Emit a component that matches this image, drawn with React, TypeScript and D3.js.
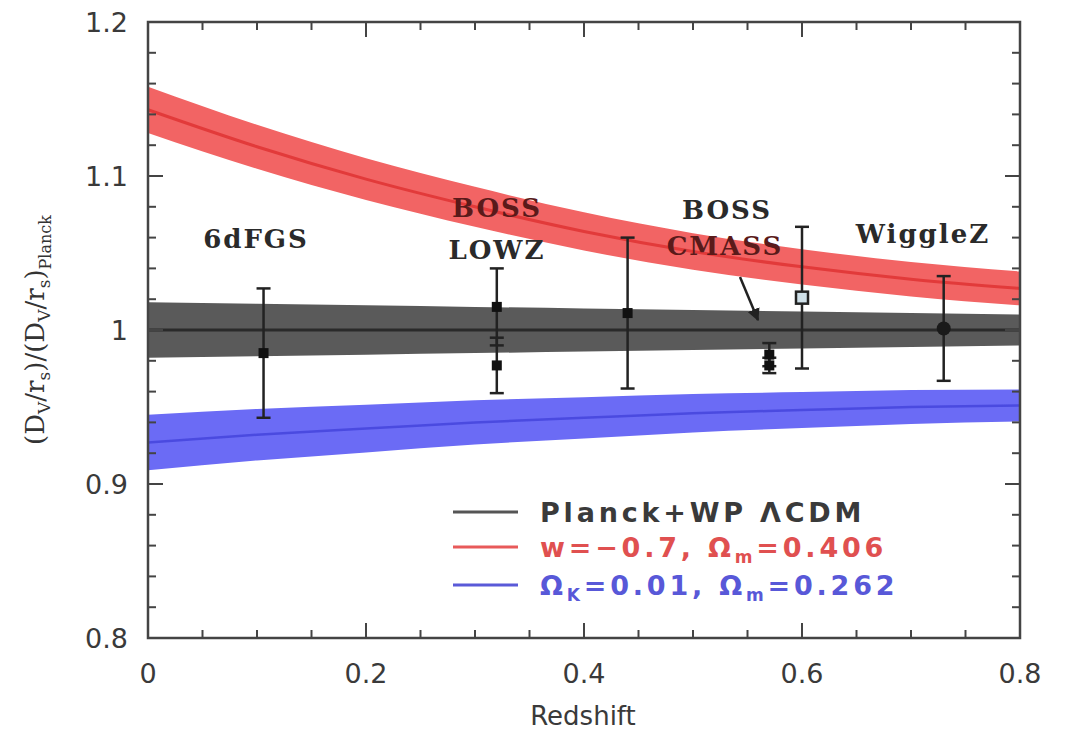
import React from "react";
import * as d3 from "d3";

// model bands, sampled along redshift
const zGrid = [0, 0.1, 0.2, 0.3, 0.4, 0.5, 0.6, 0.7, 0.8];
const planckMid = [1, 1, 1, 1, 1, 1, 1, 1, 1];
const planckHalf = [0.018, 0.017, 0.016, 0.015, 0.014, 0.013, 0.012, 0.011, 0.01];
const wMid = [1.143, 1.119, 1.098, 1.08, 1.064, 1.051, 1.041, 1.033, 1.027];
const wHalf = [0.015, 0.0143, 0.0136, 0.013, 0.0124, 0.0119, 0.0115, 0.0112, 0.011];
const okMid = [0.927, 0.932, 0.936, 0.94, 0.943, 0.946, 0.948, 0.95, 0.951];
const okHalf = [0.018, 0.0167, 0.0155, 0.0144, 0.0134, 0.0125, 0.0117, 0.011, 0.0104];

// BAO measurements
const pointZ = [0.106, 0.32, 0.32, 0.44, 0.57, 0.57, 0.6, 0.73];
const pointVal = [0.985, 1.015, 0.977, 1.011, 0.984, 0.977, 1.021, 1.001];
const pointErr = [0.042, 0.025, 0.018, 0.049, 0.0075, 0.005, 0.046, 0.034];
const pointShape = ["square", "square", "square", "square", "square", "square", "open", "circle"];

const legendLabels = ["Planck+WP \u039BCDM", "w=\u22120.7, \u03A9", "\u03A9"];

const W = 1068;
const H = 733;

const x = d3.scaleLinear().domain([0, 0.8]).range([148, 1020]);
const y = d3.scaleLinear().domain([0.8, 1.2]).range([638, 22]);

function band(mid: number[], half: number[]) {
  const area = d3
    .area<number>()
    .x((d) => x(zGrid[d]))
    .y0((d) => y(mid[d] - half[d]))
    .y1((d) => y(mid[d] + half[d]))
    .curve(d3.curveMonotoneX);
  const line = d3
    .line<number>()
    .x((d) => x(zGrid[d]))
    .y((d) => y(mid[d]))
    .curve(d3.curveMonotoneX);
  const idx = d3.range(zGrid.length);
  return { area: area(idx) as string, line: line(idx) as string };
}

export default function App() {
  const planck = band(planckMid, planckHalf);
  const wBand = band(wMid, wHalf);
  const okBand = band(okMid, okHalf);

  const xMajor = x.ticks(4);
  const xMinor = x.ticks(16);
  const yMajor = y.ticks(4);
  const yMinor = y.ticks(20);
  const fmt = (d: number) => String(+d.toFixed(1));

  const [x0, x1] = x.range();
  const [y0, y1] = y.range();
  const annFont = "'DejaVu Serif', serif";
  const sansFont = "'DejaVu Sans', sans-serif";

  return (
    <svg width={W} height={H} style={{ position: "absolute", left: 0, top: 0, background: "#fff" }}>
      <defs>
        <marker id="ah" viewBox="0 0 10 10" refX="9" refY="5" markerWidth="5" markerHeight="5" orient="auto">
          <path d="M0,0 L10,5 L0,10 z" fill="#222" />
        </marker>
      </defs>

      {/* model bands */}
      <path d={planck.area} fill="#5a5a5a" />
      <path d={planck.line} fill="none" stroke="#2a2a2a" strokeWidth={3} />
      <path d={okBand.area} fill="#6b6bf5" />
      <path d={okBand.line} fill="none" stroke="#4a4ae0" strokeWidth={2.5} />
      <path d={wBand.area} fill="#f26464" />
      <path d={wBand.line} fill="none" stroke="#e23a3a" strokeWidth={3} />

      {/* error bars */}
      <g stroke="#222" strokeWidth={2.5}>
        {pointZ.map((z, i) => {
          const cx = x(z);
          const top = y(pointVal[i] + pointErr[i]);
          const bot = y(pointVal[i] - pointErr[i]);
          return (
            <g key={i}>
              <line x1={cx} x2={cx} y1={top} y2={bot} />
              <line x1={cx - 7} x2={cx + 7} y1={top} y2={top} />
              <line x1={cx - 7} x2={cx + 7} y1={bot} y2={bot} />
            </g>
          );
        })}
      </g>
      <g>
        {pointZ.map((z, i) => {
          const cx = x(z);
          const cy = y(pointVal[i]);
          if (pointShape[i] === "circle") return <circle key={i} cx={cx} cy={cy} r={7} fill="#1a1a1a" />;
          if (pointShape[i] === "open")
            return <rect key={i} x={cx - 6} y={cy - 6} width={12} height={12} fill="#cfe0e8" stroke="#222" strokeWidth={2.5} />;
          return <rect key={i} x={cx - 5} y={cy - 5} width={10} height={10} fill="#111" />;
        })}
      </g>

      {/* survey labels */}
      <g fontFamily={annFont} fontWeight="bold" fontSize={26} fill="#2a2a2a" textAnchor="middle" letterSpacing={2}>
        <text x={256} y={248}>6dFGS</text>
        <text x={497} y={217} fill="#5a1a1a">BOSS</text>
        <text x={497} y={259}>LOWZ</text>
        <text x={727} y={219}>BOSS</text>
        <text x={725} y={255} fill="#5a1a1a">CMASS</text>
        <text x={923} y={243}>WiggleZ</text>
      </g>
      <line x1={740} y1={277} x2={758} y2={320} stroke="#222" strokeWidth={2.5} markerEnd="url(#ah)" />

      {/* frame and ticks */}
      <rect x={x0} y={y1} width={x1 - x0} height={y0 - y1} fill="none" stroke="#444" strokeWidth={2.5} />
      <g stroke="#444" strokeWidth={2}>
        {xMinor.map((t, i) => {
          const len = xMajor.some((m) => Math.abs(m - t) < 1e-9) ? 15 : 8;
          return (
            <g key={"xm" + i}>
              <line x1={x(t)} x2={x(t)} y1={y0} y2={y0 - len} />
              <line x1={x(t)} x2={x(t)} y1={y1} y2={y1 + len} />
            </g>
          );
        })}
        {yMinor.map((t, i) => {
          const len = yMajor.some((m) => Math.abs(m - t) < 1e-9) ? 15 : 8;
          return (
            <g key={"ym" + i}>
              <line x1={x0} x2={x0 + len} y1={y(t)} y2={y(t)} />
              <line x1={x1} x2={x1 - len} y1={y(t)} y2={y(t)} />
            </g>
          );
        })}
      </g>
      <g fontFamily={sansFont} fontSize={27} fill="#3a3a3a">
        {xMajor.map((t, i) => (
          <text key={i} x={x(t)} y={683} textAnchor="middle">{fmt(t)}</text>
        ))}
        {yMajor.map((t, i) => (
          <text key={i} x={128} y={y(t) + 10} textAnchor="end">{fmt(t)}</text>
        ))}
      </g>
      <text x={583} y={725} textAnchor="middle" fontFamily={sansFont} fontSize={26} fill="#3a3a3a">Redshift</text>
      <text transform="translate(44,330) rotate(-90)" textAnchor="middle" fontFamily={annFont} fontSize={26} fill="#333">
        (D<tspan fontSize={17} dy={6}>V</tspan>
        <tspan dy={-6}>/r</tspan><tspan fontSize={17} dy={6}>s</tspan>
        <tspan dy={-6}>)/(D</tspan><tspan fontSize={17} dy={6}>V</tspan>
        <tspan dy={-6}>/r</tspan><tspan fontSize={17} dy={6}>s</tspan>
        <tspan dy={-6}>)</tspan><tspan fontSize={16} dy={7}>Planck</tspan>
      </text>

      {/* legend */}
      <g strokeWidth={3}>
        <line x1={453} x2={518} y1={512} y2={512} stroke="#555" />
        <line x1={453} x2={518} y1={547} y2={547} stroke="#e85a5a" />
        <line x1={453} x2={518} y1={585} y2={585} stroke="#5a5ad8" />
      </g>
      <g fontFamily={sansFont} fontWeight="bold" fontSize={27} letterSpacing={3.8}>
        <text x={540} y={522} fill="#3a3a3a">{legendLabels[0]}</text>
        <text x={540} y={557} fill="#e05050">
          {legendLabels[1]}<tspan fontSize={17} dy={6}>m</tspan><tspan dy={-6}>=0.406</tspan>
        </text>
        <text x={540} y={595} fill="#5858d8">
          {legendLabels[2]}<tspan fontSize={17} dy={6}>K</tspan><tspan dy={-6}>=0.01, {"\u03A9"}</tspan>
          <tspan fontSize={17} dy={6}>m</tspan><tspan dy={-6}>=0.262</tspan>
        </text>
      </g>
    </svg>
  );
}
